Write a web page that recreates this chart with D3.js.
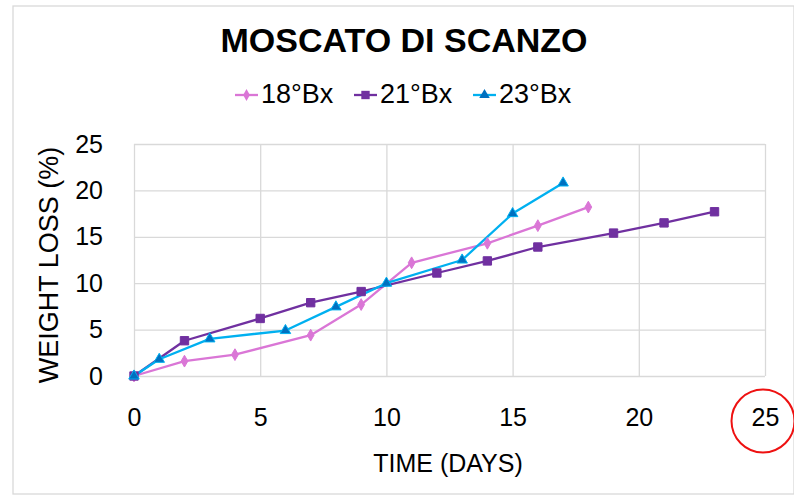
<!DOCTYPE html>
<html>
<head>
<meta charset="utf-8">
<script src="https://cdn.jsdelivr.net/npm/d3@7"></script>
<style>
  body { margin: 0; background: #fff; }
  svg { font-family: "Liberation Sans", Arial, sans-serif; }
  .grid line { stroke: #d9d9d9; stroke-width: 1.3; }
  .grid .domain { display: none; }
</style>
</head>
<body>
<svg id="viz"></svg>
<script>
// ----------------------- DATA
const title = 'MOSCATO DI SCANZO';
const seriesNames = ['18°Bx', '21°Bx', '23°Bx'];

const days18 = [0, 2, 4, 7, 9, 11, 14, 16, 18];
const loss18 = [0, 1.6, 2.3, 4.4, 7.7, 12.2, 14.3, 16.2, 18.2];

const days21 = [0, 2, 5, 7, 9, 12, 14, 16, 19, 21, 23];
const loss21 = [0, 3.8, 6.2, 7.9, 9.1, 11.1, 12.4, 13.9, 15.4, 16.5, 17.7];

const days23 = [0, 1, 3, 6, 8, 10, 13, 15, 17];
const loss23 = [0, 1.8, 4.0, 4.9, 7.45, 10.0, 12.5, 17.5, 20.8];

const xTicks = [0, 5, 10, 15, 20, 25];
const yTicks = [0, 5, 10, 15, 20, 25];

// ----------------------- SETTINGS
const W = 794, H = 497;
const margin = { top: 144, right: 29, bottom: 121, left: 134 };
const width = W - margin.left - margin.right;
const height = H - margin.top - margin.bottom;

const colors = ['#da76d6', '#7030a0', '#00b0f0'];
const symbols = [d3.symbolDiamond, d3.symbolSquare, d3.symbolTriangle];
const symSizes = [40, 70, 48];

const series = [
  days18.map((d, i) => ({ x: d, y: loss18[i] })),
  days21.map((d, i) => ({ x: d, y: loss21[i] })),
  days23.map((d, i) => ({ x: d, y: loss23[i] }))
];

const svg = d3.select('#viz').attr('width', W).attr('height', H);

// outer chart border
svg.append('rect')
  .attr('x', 13).attr('y', 6)
  .attr('width', 781).attr('height', 488)
  .attr('fill', 'none').attr('stroke', '#d9d9d9').attr('stroke-width', 1.3);

const x = d3.scaleLinear().domain([0, 25]).range([0, width]);
const y = d3.scaleLinear().domain([0, 25]).range([height, 0]);

const chart = svg.append('g')
  .attr('transform', `translate(${margin.left}, ${margin.top})`);

// gridlines
chart.append('g')
  .attr('class', 'grid')
  .call(d3.axisLeft(y).tickValues(yTicks).tickSize(-width).tickFormat(''));
chart.append('g')
  .attr('class', 'grid')
  .attr('transform', `translate(0, ${height})`)
  .call(d3.axisBottom(x).tickValues(xTicks).tickSize(height).tickFormat(''))
  .selectAll('line').attr('transform', `translate(0, ${-height})`);

// y tick labels
const yAxis = chart.append('g')
  .call(d3.axisLeft(y).tickValues(yTicks).tickSize(0).tickPadding(31));
yAxis.select('.domain').remove();
yAxis.selectAll('text')
  .attr('font-family', '"Liberation Sans", Arial, sans-serif')
  .attr('font-size', 25).attr('fill', '#000');

// x tick labels
const xAxis = chart.append('g')
  .attr('transform', `translate(0, ${height})`)
  .call(d3.axisBottom(x).tickValues(xTicks).tickSize(0).tickPadding(32));
xAxis.select('.domain').remove();
xAxis.selectAll('text')
  .attr('font-family', '"Liberation Sans", Arial, sans-serif')
  .attr('font-size', 25).attr('fill', '#000');

// red circle around last tick
chart.append('circle')
  .attr('cx', x(25) - 2).attr('cy', height + 45)
  .attr('r', 31.5)
  .attr('fill', 'none').attr('stroke', '#ee1111').attr('stroke-width', 2);

// lines and markers
const line = d3.line().x(d => x(d.x)).y(d => y(d.y));

series.forEach((s, i) => {
  chart.append('path')
    .datum(s)
    .attr('fill', 'none')
    .attr('stroke', colors[i])
    .attr('stroke-width', 2.3)
    .attr('stroke-linejoin', 'round')
    .attr('d', line);
});
series.forEach((s, i) => {
  chart.selectAll('.m' + i)
    .data(s)
    .enter().append('path')
    .attr('class', 'm' + i)
    .attr('transform', d => `translate(${x(d.x)}, ${y(d.y)})`)
    .attr('d', d3.symbol().type(symbols[i]).size(symSizes[i]))
    .attr('fill', i === 2 ? '#0070c0' : colors[i])
    .attr('stroke', colors[i])
    .attr('stroke-width', 1);
});

// title
svg.append('text')
  .attr('x', 404).attr('y', 52)
  .attr('text-anchor', 'middle')
  .attr('font-size', 34).attr('font-weight', 'bold')
  .text(title);

// legend
const legendX = [235, 354, 473];
const legend = svg.append('g');
seriesNames.forEach((name, i) => {
  const g = legend.append('g').attr('transform', `translate(${legendX[i]}, 95)`);
  g.append('line')
    .attr('x1', 0).attr('x2', 23)
    .attr('stroke', colors[i]).attr('stroke-width', 2.3);
  g.append('path')
    .attr('transform', 'translate(11.5, 0)')
    .attr('d', d3.symbol().type(symbols[i]).size(symSizes[i]))
    .attr('fill', i === 2 ? '#0070c0' : colors[i]);
  g.append('text')
    .attr('x', 26).attr('y', 8)
    .attr('font-size', 27)
    .text(name);
});

// axis titles
svg.append('text')
  .attr('transform', 'translate(58, 265) rotate(-90)')
  .attr('text-anchor', 'middle')
  .attr('font-size', 27)
  .text('WEIGHT LOSS (%)');

svg.append('text')
  .attr('x', 448).attr('y', 472)
  .attr('text-anchor', 'middle')
  .attr('font-size', 25)
  .text('TIME (DAYS)');
</script>
</body>
</html>
